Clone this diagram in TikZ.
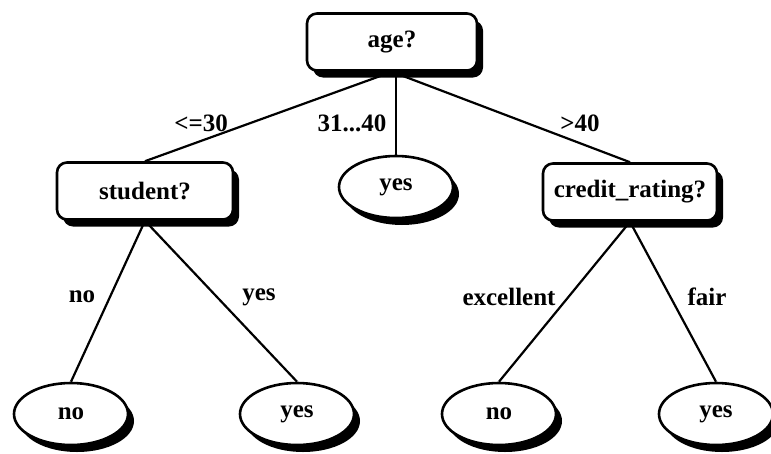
\documentclass[tikz,border=0pt]{standalone}
\usepackage{fontspec}
\setmainfont{Liberation Serif}
\usepackage{tikz}
\usetikzlibrary{positioning,shapes.geometric,shadows,backgrounds}
\tikzset{
  blk/.style={draw, line width=2.6pt, fill=white, align=center, inner sep=0pt,
              font=\fontsize{25}{29}\selectfont\bfseries,
              drop shadow={shadow xshift=6pt, shadow yshift=-7pt, fill=black, opacity=1}},
  test/.style={blk, rounded corners=10pt, minimum height=57pt},
  leaf/.style={blk, ellipse, minimum width=114pt, minimum height=62pt},
  br/.style={line width=2.2pt},
  lbl/.style={font=\fontsize{25}{29}\selectfont\bfseries, inner sep=1pt},
}

\begin{document}
\begin{tikzpicture}[x=1pt, y=1pt]
    \useasboundingbox (0,0) rectangle (771,-453);
    % --- tests ---
    \node[test, minimum width=170pt] (age)  at (392,-42)  {age?};
    \node[test, minimum width=176pt] (stud) at (145,-191) {student?};
    \node[test, minimum width=174pt] (cred) at (630,-192) {credit\_rating?};

    % --- leaves ---
    \node[leaf] (mid)  at (396,-187) {yes};
    \node[leaf] (sno)  at (71,-414)  {no};
    \node[leaf] (syes) at (297,-414) {yes};
    \node[leaf] (cno)  at (499,-414) {no};
    \node[leaf] (cyes) at (716,-414) {yes};

    % --- branches ---
    \begin{scope}[on background layer]
      \draw[br] (age.south)  -- (stud.north);
      \draw[br] (age.south -| mid.north) -- (mid.north);
      \draw[br] (age.south)  -- (cred.north);
      \draw[br] (stud.south) -- (sno.north);
      \draw[br] (stud.south) -- (syes.north);
      \draw[br] (cred.south) -- (cno.north);
      \draw[br] (cred.south) -- (cyes.north);
    \end{scope}

    % --- branch labels ---
    \node[lbl] (l30)  at (201,-123) {<=30};
    \node[lbl] (l31)  at (352,-123) {31...40};
    \node[lbl] (l40)  at (580,-123) {>40};
    \node[lbl] (lno)  at (82,-297)  {no};
    \node[lbl] (lyes) at (259,-297) {yes};
    \node[lbl] (lexc) at (509,-297) {excellent};
    \node[lbl] (lfr)  at (707,-297) {fair};
  \end{tikzpicture}
\end{document}
